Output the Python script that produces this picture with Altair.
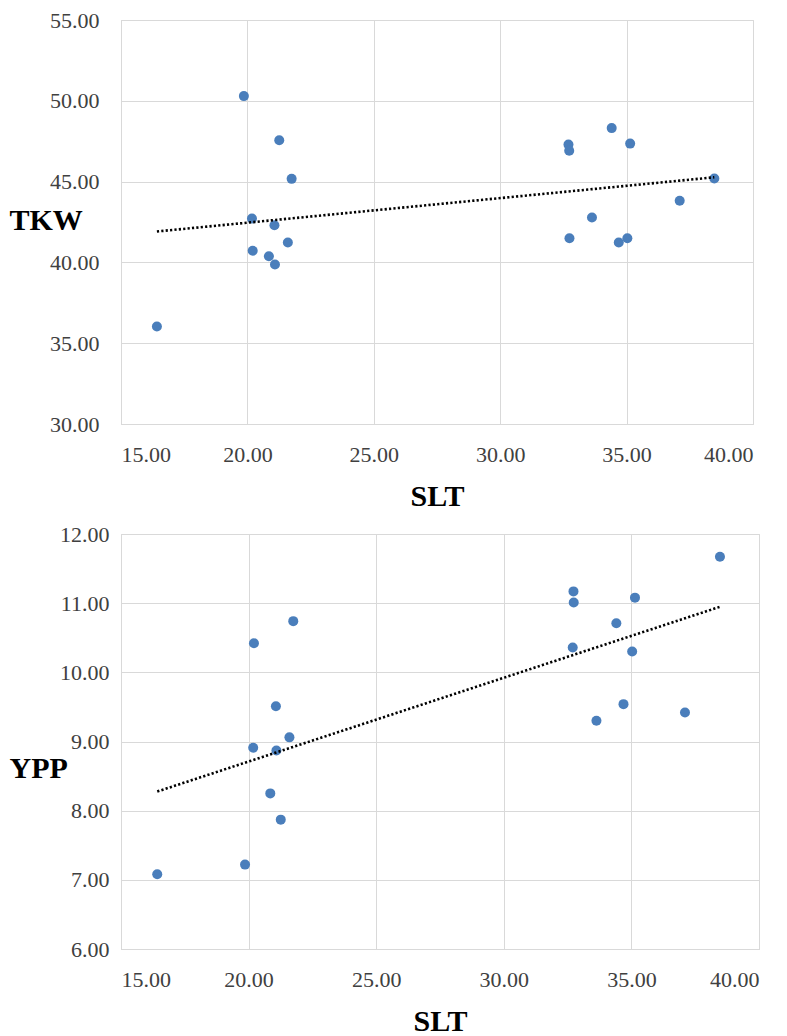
import altair as alt
import pandas as pd

SLT = [16.42, 19.86, 20.18, 20.21, 20.85, 21.07, 21.09, 21.26, 21.60, 21.75,
       32.70, 32.73, 32.74, 33.63, 34.41, 34.69, 35.03, 35.14, 37.10, 38.47]
TKW = [36.03, 50.29, 42.71, 40.72, 40.38, 42.30, 39.87, 47.56, 41.23, 45.17,
       47.29, 46.91, 41.49, 42.78, 48.31, 41.23, 41.49, 47.35, 43.82, 45.19]
YPP = [7.08, 7.22, 8.91, 10.42, 8.25, 9.51, 8.87, 7.87, 9.06, 10.74,
       10.36, 11.17, 11.01, 9.30, 10.71, 9.54, 10.30, 11.08, 9.42, 11.67]

X_TICKS = [15, 20, 25, 30, 35, 40]
TKW_TICKS = [30, 35, 40, 45, 50, 55]
YPP_TICKS = [6, 7, 8, 9, 10, 11, 12]

df = pd.DataFrame({"SLT": SLT, "TKW": TKW, "YPP": YPP})

GRID = "#d9d9d9"
DOT = "#4a7ebb"
FONT = "Liberation Serif"


def panel(ycol, yticks, width, height, title_x, title_y, xtitle_y, ylab_pad):
    x = alt.X(
        "SLT:Q",
        scale=alt.Scale(domain=[X_TICKS[0], X_TICKS[-1]], nice=False, zero=False),
        axis=alt.Axis(values=X_TICKS, format=".2f", title="SLT",
                      labelPadding=20, titleY=xtitle_y, titleBaseline="middle"),
    )
    y = alt.Y(
        f"{ycol}:Q",
        scale=alt.Scale(domain=[yticks[0], yticks[-1]], nice=False, zero=False),
        axis=alt.Axis(values=yticks, format=".2f", title=ycol, titleAngle=0,
                      titleAlign="left", titleBaseline="middle",
                      titleX=title_x, titleY=title_y, labelPadding=ylab_pad),
    )
    base = alt.Chart(df)
    pts = base.mark_circle(size=100, opacity=1, color=DOT).encode(x=x, y=y)
    trend = base.transform_regression("SLT", ycol).mark_line(
        color="black", strokeWidth=2.6, strokeDash=[2.2, 2.2]
    ).encode(x=x, y=y)
    return alt.layer(pts, trend).properties(width=width, height=height)


top = panel("TKW", TKW_TICKS, 632, 404, -112, 200, 72, 22)
bottom = panel("YPP", YPP_TICKS, 638, 415, -112, 234, 72, 12)

chart = alt.vconcat(top, bottom, spacing=10).resolve_scale(
    x="independent", y="independent"
).properties(padding=0).configure(
    font=FONT
).configure_view(
    stroke=GRID
).configure_axis(
    grid=True,
    gridColor=GRID,
    gridWidth=1,
    domainColor=GRID,
    ticks=False,
    labelFont=FONT,
    labelFontSize=22,
    labelColor="#404040",
    titleFont=FONT,
    titleFontSize=30,
    titleFontWeight="bold",
    titleColor="black",
)

chart.save("out.html", embed_options={"renderer": "svg", "actions": False})
